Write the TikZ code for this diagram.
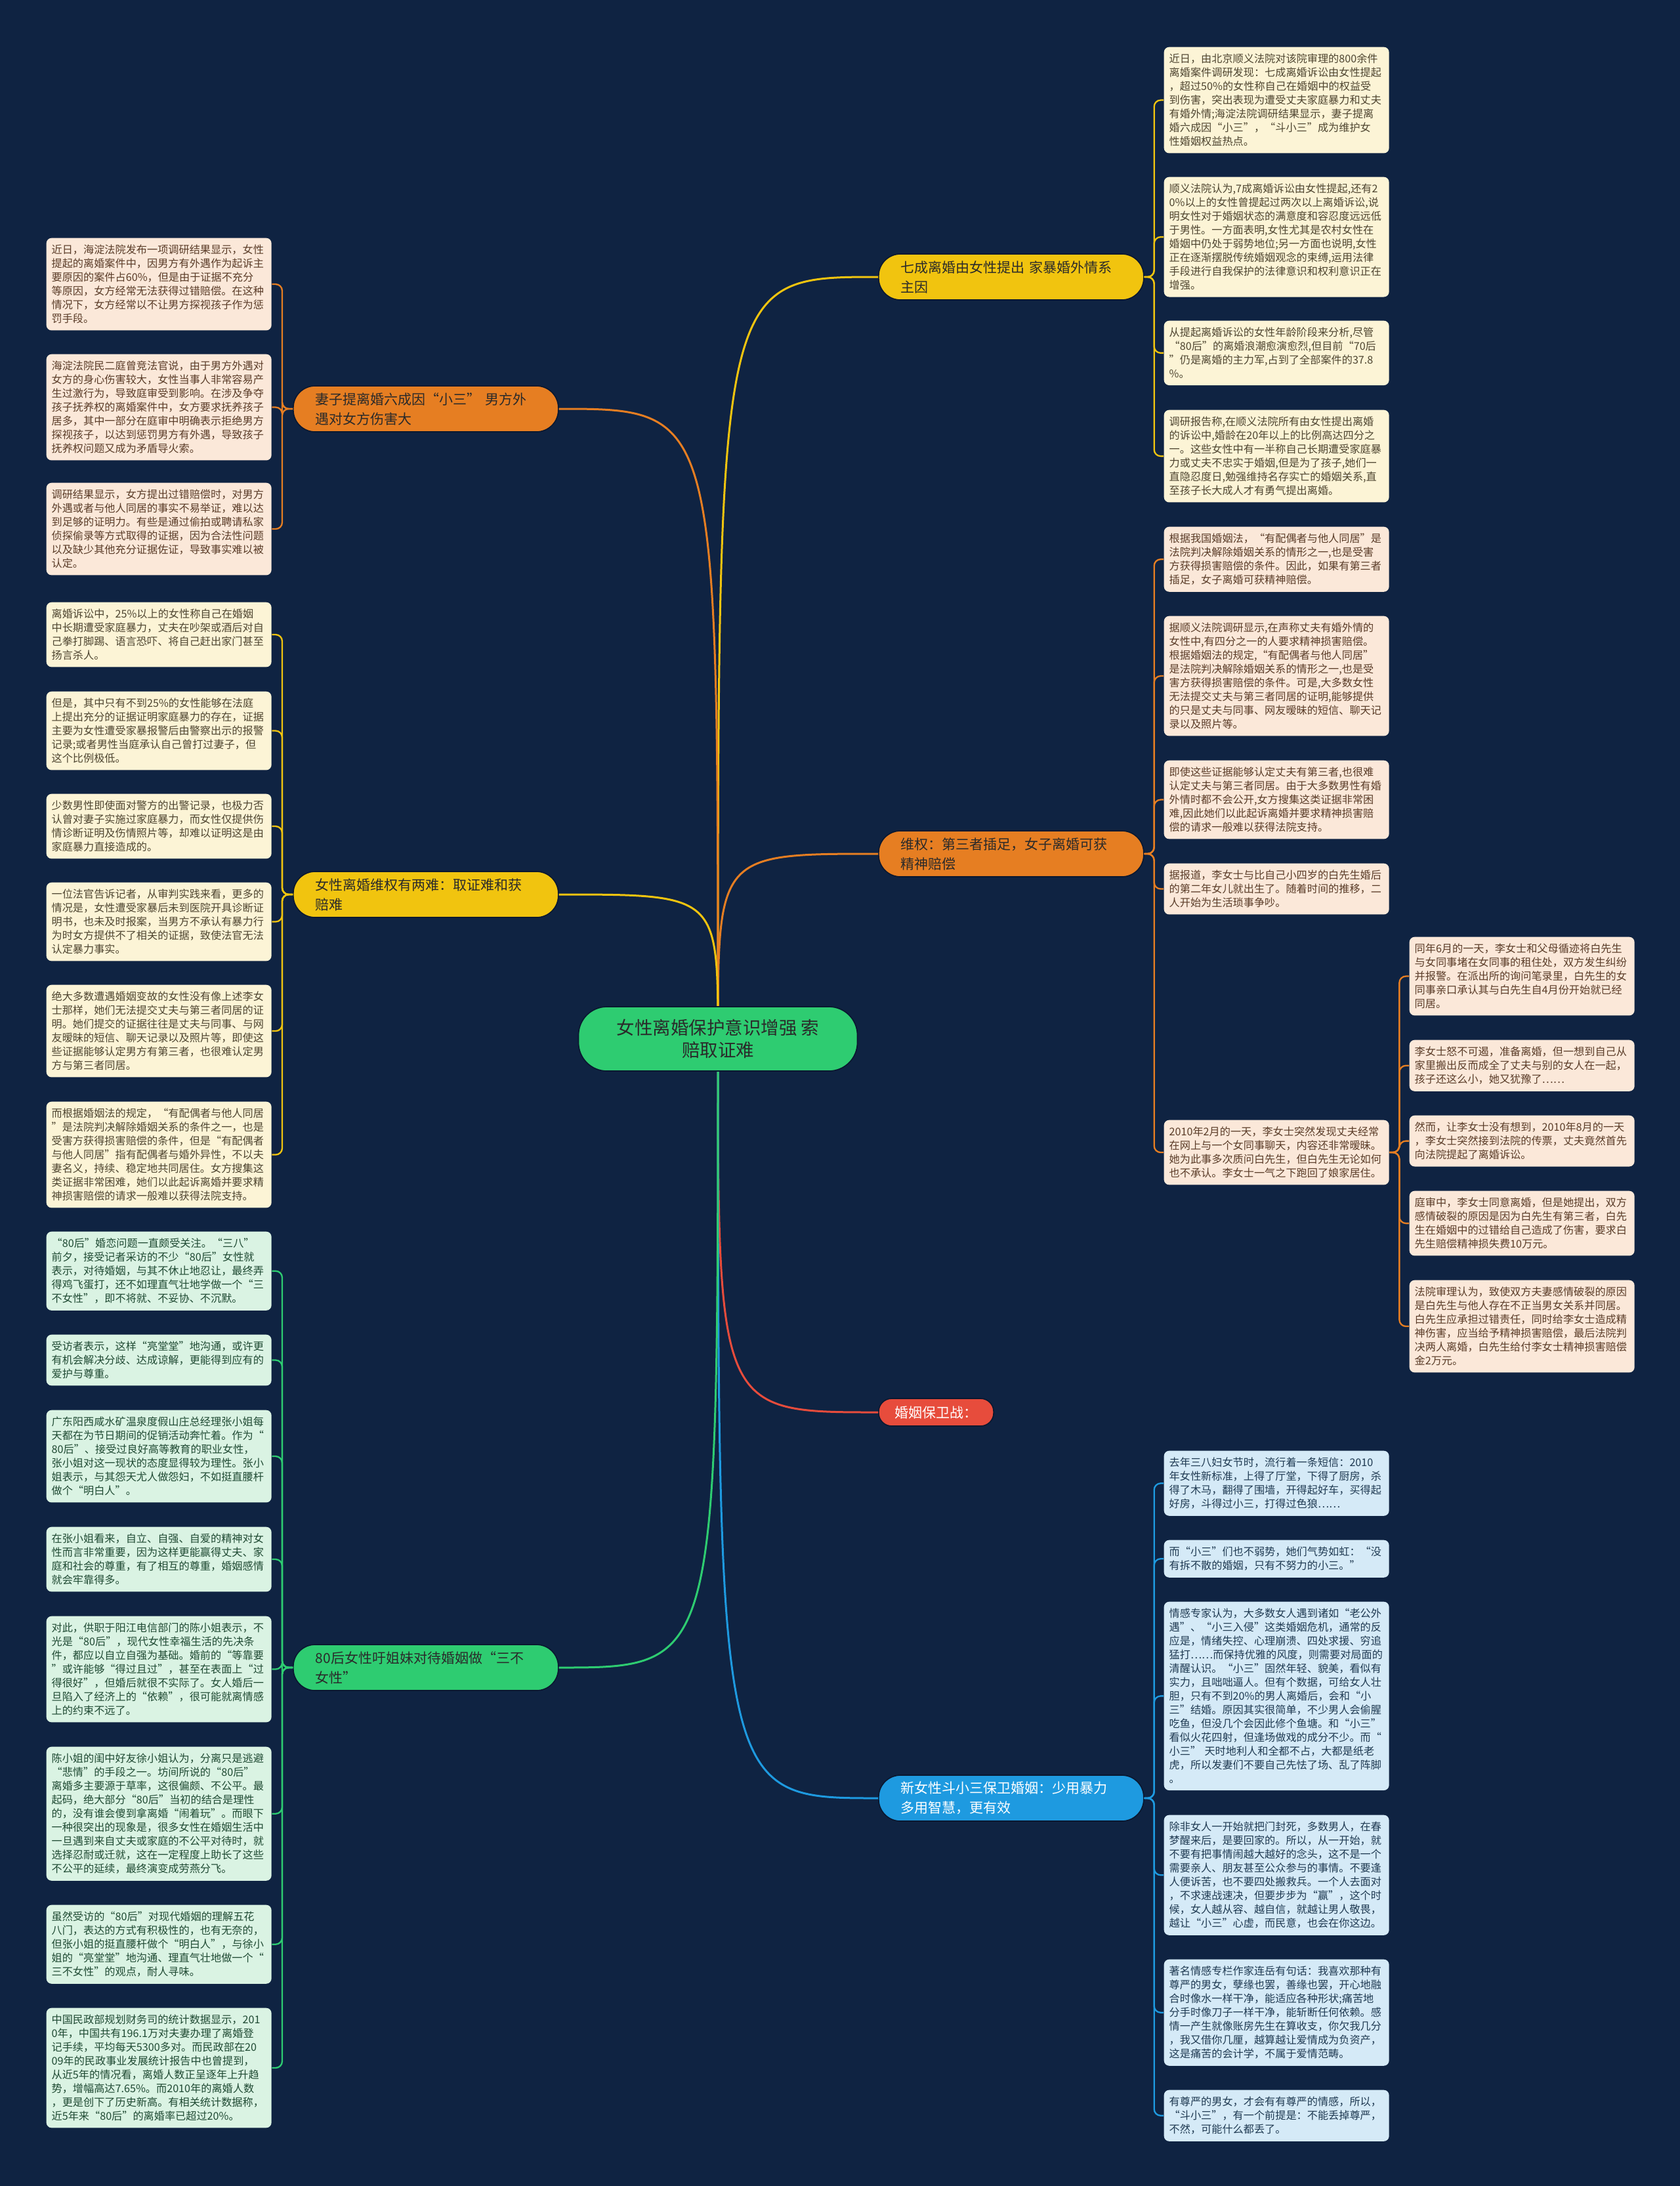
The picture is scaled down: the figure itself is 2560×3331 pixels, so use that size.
\documentclass[tikz,border=0pt]{standalone}
\usepackage{fontspec}
\newfontfamily\cjk{Noto Sans CJK SC}
\newcommand\lffont{\cjk\fontsize{4.85pt}{6.3pt}\selectfont}
\newcommand\brfont{\cjk\fontsize{6.3pt}{9pt}\selectfont}
\newcommand\cnfont{\cjk\fontsize{8.25pt}{10.2pt}\selectfont}
\definecolor{bgc}{HTML}{0F2342}
\definecolor{cG}{HTML}{2ECC71}
\definecolor{cY}{HTML}{F1C40F}
\definecolor{cO}{HTML}{E67E22}
\definecolor{cR}{HTML}{E74C3C}
\definecolor{cB}{HTML}{1E9AE0}
\definecolor{fY}{HTML}{FCF4D6}
\definecolor{fO}{HTML}{FBE8D9}
\definecolor{fB}{HTML}{D5EAF7}
\definecolor{fG}{HTML}{DAF3E3}
\definecolor{tY}{HTML}{4E4530}
\definecolor{tO}{HTML}{5A3C28}
\definecolor{tB}{HTML}{1F3A52}
\definecolor{tG}{HTML}{1F4A33}
\definecolor{tD}{HTML}{2A2A2A}
\definecolor{edge}{HTML}{0A1830}
\begin{document}
\begin{tikzpicture}[x=0.3pt,y=-0.3pt,
  leaf/.style={anchor=north west, rounded corners=2.4pt, align=left, text width=98.1pt, inner xsep=2.4pt, inner ysep=3.1pt, font=\lffont},
  yl/.style={leaf, fill=fY, text=tY},
  ol/.style={leaf, fill=fO, text=tO},
  bl/.style={leaf, fill=fB, text=tB},
  gl/.style={leaf, fill=fG, text=tG},
  branch/.style={anchor=west, draw=edge, line width=0.5pt, rounded corners=10pt, align=left, text width=100.8pt, inner xsep=10.2pt, inner ysep=2pt, minimum height=21pt, font=\brfont},
  lk/.style={line width=0.7pt, rounded corners=3pt},
  mc/.style={line width=0.9pt}]
\fill[bgc] (0,0) rectangle (2560,3331);
\useasboundingbox (0,0) rectangle (2560,3331);

% branch nodes
\node[branch, fill=cY, text=tD] (r1) at (1338,422) {七成离婚由女性提出 家暴婚外情系\\主因};
\node[branch, fill=cO, text=tD] (r2) at (1338,1301) {维权：第三者插足，女子离婚可获\\精神赔偿};
\node[anchor=west, draw=edge, line width=0.5pt, rounded corners=6pt, fill=cR, text=white, font=\brfont, inner xsep=7.4pt, minimum height=12.6pt, inner ysep=1pt] (r3) at (1338,2152) {婚姻保卫战：};
\node[branch, fill=cB, text=white] (r4) at (1338,2740) {新女性斗小三保卫婚姻：少用暴力\\多用智慧，更有效};
\node[branch, fill=cO, text=tD] (l1) at (446,623) {妻子提离婚六成因“小三” 男方外\\遇对女方伤害大};
\node[branch, fill=cY, text=tD] (l2) at (446,1363) {女性离婚维权有两难：取证难和获\\赔难};
\node[branch, fill=cG, text=tD] (l3) at (446,2541) {80后女性吁姐妹对待婚姻做“三不\\女性”};

% right R1 leaves
\node[yl] (b1) at (1773,71) {近日，由北京顺义法院对该院审理的800余件\\离婚案件调研发现：七成离婚诉讼由女性提起\\，超过50\%的女性称自己在婚姻中的权益受\\到伤害，突出表现为遭受丈夫家庭暴力和丈夫\\有婚外情;海淀法院调研结果显示，妻子提离\\婚六成因“小三”，“斗小三”成为维护女\\性婚姻权益热点。};
\node[yl] (b2) at (1773,269) {顺义法院认为,7成离婚诉讼由女性提起,还有2\\0\%以上的女性曾提起过两次以上离婚诉讼,说\\明女性对于婚姻状态的满意度和容忍度远远低\\于男性。一方面表明,女性尤其是农村女性在\\婚姻中仍处于弱势地位;另一方面也说明,女性\\正在逐渐摆脱传统婚姻观念的束缚,运用法律\\手段进行自我保护的法律意识和权利意识正在\\增强。};
\node[yl] (b3) at (1773,488) {从提起离婚诉讼的女性年龄阶段来分析,尽管\\“80后”的离婚浪潮愈演愈烈,但目前“70后\\”仍是离婚的主力军,占到了全部案件的37.8\\\%。};
\node[yl] (b4) at (1773,624) {调研报告称,在顺义法院所有由女性提出离婚\\的诉讼中,婚龄在20年以上的比例高达四分之\\一。这些女性中有一半称自己长期遭受家庭暴\\力或丈夫不忠实于婚姻,但是为了孩子,她们一\\直隐忍度日,勉强维持名存实亡的婚姻关系,直\\至孩子长大成人才有勇气提出离婚。};

% right R2 leaves
\node[ol] (c1) at (1773,802) {根据我国婚姻法，“有配偶者与他人同居”是\\法院判决解除婚姻关系的情形之一,也是受害\\方获得损害赔偿的条件。因此，如果有第三者\\插足，女子离婚可获精神赔偿。};
\node[ol] (c2) at (1773,938) {据顺义法院调研显示,在声称丈夫有婚外情的\\女性中,有四分之一的人要求精神损害赔偿。\\根据婚姻法的规定,“有配偶者与他人同居”\\是法院判决解除婚姻关系的情形之一,也是受\\害方获得损害赔偿的条件。可是,大多数女性\\无法提交丈夫与第三者同居的证明,能够提供\\的只是丈夫与同事、网友暧昧的短信、聊天记\\录以及照片等。};
\node[ol] (c3) at (1773,1158) {即使这些证据能够认定丈夫有第三者,也很难\\认定丈夫与第三者同居。由于大多数男性有婚\\外情时都不会公开,女方搜集这类证据非常困\\难,因此她们以此起诉离婚并要求精神损害赔\\偿的请求一般难以获得法院支持。};
\node[ol] (c4) at (1773,1315) {据报道，李女士与比自己小四岁的白先生婚后\\的第二年女儿就出生了。随着时间的推移，二\\人开始为生活琐事争吵。};
\node[ol] (c5) at (1773,1706) {2010年2月的一天，李女士突然发现丈夫经常\\在网上与一个女同事聊天，内容还非常暧昧。\\她为此事多次质问白先生，但白先生无论如何\\也不承认。李女士一气之下跑回了娘家居住。};

% sub leaves of c5
\node[ol] (s1) at (2147,1427) {同年6月的一天，李女士和父母循迹将白先生\\与女同事堵在女同事的租住处，双方发生纠纷\\并报警。在派出所的询问笔录里，白先生的女\\同事亲口承认其与白先生自4月份开始就已经\\同居。};
\node[ol] (s2) at (2147,1584) {李女士怒不可遏，准备离婚，但一想到自己从\\家里搬出反而成全了丈夫与别的女人在一起，\\孩子还这么小，她又犹豫了……};
\node[ol] (s3) at (2147,1699) {然而，让李女士没有想到，2010年8月的一天\\，李女士突然接到法院的传票，丈夫竟然首先\\向法院提起了离婚诉讼。};
\node[ol] (s4) at (2147,1814) {庭审中，李女士同意离婚，但是她提出，双方\\感情破裂的原因是因为白先生有第三者，白先\\生在婚姻中的过错给自己造成了伤害，要求白\\先生赔偿精神损失费10万元。};
\node[ol] (s5) at (2147,1950) {法院审理认为，致使双方夫妻感情破裂的原因\\是白先生与他人存在不正当男女关系并同居。\\白先生应承担过错责任，同时给李女士造成精\\神伤害，应当给予精神损害赔偿，最后法院判\\决两人离婚，白先生给付李女士精神损害赔偿\\金2万元。};

% right R4 leaves
\node[bl] (d1) at (1773,2210) {去年三八妇女节时，流行着一条短信：2010\\年女性新标准，上得了厅堂，下得了厨房，杀\\得了木马，翻得了围墙，开得起好车，买得起\\好房，斗得过小三，打得过色狼……};
\node[bl] (d2) at (1773,2346) {而“小三”们也不弱势，她们气势如虹：“没\\有拆不散的婚姻，只有不努力的小三。”};
\node[bl] (d3) at (1773,2440) {情感专家认为，大多数女人遇到诸如“老公外\\遇”、“小三入侵”这类婚姻危机，通常的反\\应是，情绪失控、心理崩溃、四处求援、穷追\\猛打……而保持优雅的风度，则需要对局面的\\清醒认识。“小三”固然年轻、貌美，看似有\\实力，且咄咄逼人。但有个数据，可给女人壮\\胆，只有不到20\%的男人离婚后，会和“小\\三”结婚。原因其实很简单，不少男人会偷腥\\吃鱼，但没几个会因此修个鱼塘。和“小三”\\看似火花四射，但逢场做戏的成分不少。而“\\小三”~天时地利人和全都不占，大都是纸老\\虎，所以发妻们不要自己先怯了场、乱了阵脚\\。};
\node[bl] (d4) at (1773,2765) {除非女人一开始就把门封死，多数男人，在春\\梦醒来后，是要回家的。所以，从一开始，就\\不要有把事情闹越大越好的念头，这不是一个\\需要亲人、朋友甚至公众参与的事情。不要逢\\人便诉苦，也不要四处搬救兵。一个人去面对\\，不求速战速决，但要步步为“赢”，这个时\\候，女人越从容、越自信，就越让男人敬畏，\\越让“小三”心虚，而民意，也会在你这边。};
\node[bl] (d5) at (1773,2985) {著名情感专栏作家连岳有句话：我喜欢那种有\\尊严的男女，孽缘也罢，善缘也罢，开心地融\\合时像水一样干净，能适应各种形状;痛苦地\\分手时像刀子一样干净，能斩断任何依赖。感\\情一产生就像账房先生在算收支，你欠我几分\\，我又借你几厘，越算越让爱情成为负资产，\\这是痛苦的会计学，不属于爱情范畴。};
\node[bl] (d6) at (1773,3184) {有尊严的男女，才会有有尊严的情感，所以，\\“斗小三”，有一个前提是：不能丢掉尊严，\\不然，可能什么都丢了。};

% left L1 leaves
\node[ol] (e1) at (70,362) {近日，海淀法院发布一项调研结果显示，女性\\提起的离婚案件中，因男方有外遇作为起诉主\\要原因的案件占60\%，但是由于证据不充分\\等原因，女方经常无法获得过错赔偿。在这种\\情况下，女方经常以不让男方探视孩子作为惩\\罚手段。};
\node[ol] (e2) at (70,539) {海淀法院民二庭曾竞法官说，由于男方外遇对\\女方的身心伤害较大，女性当事人非常容易产\\生过激行为，导致庭审受到影响。在涉及争夺\\孩子抚养权的离婚案件中，女方要求抚养孩子\\居多，其中一部分在庭审中明确表示拒绝男方\\探视孩子，以达到惩罚男方有外遇，导致孩子\\抚养权问题又成为矛盾导火索。};
\node[ol] (e3) at (70,735) {调研结果显示，女方提出过错赔偿时，对男方\\外遇或者与他人同居的事实不易举证，难以达\\到足够的证明力。有些是通过偷拍或聘请私家\\侦探偷录等方式取得的证据，因为合法性问题\\以及缺少其他充分证据佐证，导致事实难以被\\认定。};

% left L2 leaves
\node[yl] (f1) at (70,917) {离婚诉讼中，25\%以上的女性称自己在婚姻\\中长期遭受家庭暴力，丈夫在吵架或酒后对自\\己拳打脚踢、语言恐吓、将自己赶出家门甚至\\扬言杀人。};
\node[yl] (f2) at (70,1053) {但是，其中只有不到25\%的女性能够在法庭\\上提出充分的证据证明家庭暴力的存在，证据\\主要为女性遭受家暴报警后由警察出示的报警\\记录;或者男性当庭承认自己曾打过妻子，但\\这个比例极低。};
\node[yl] (f3) at (70,1209) {少数男性即使面对警方的出警记录，也极力否\\认曾对妻子实施过家庭暴力，而女性仅提供伤\\情诊断证明及伤情照片等，却难以证明这是由\\家庭暴力直接造成的。};
\node[yl] (f4) at (70,1344) {一位法官告诉记者，从审判实践来看，更多的\\情况是，女性遭受家暴后未到医院开具诊断证\\明书，也未及时报案，当男方不承认有暴力行\\为时女方提供不了相关的证据，致使法官无法\\认定暴力事实。};
\node[yl] (f5) at (70,1500) {绝大多数遭遇婚姻变故的女性没有像上述李女\\士那样，她们无法提交丈夫与第三者同居的证\\明。她们提交的证据往往是丈夫与同事、与网\\友暧昧的短信、聊天记录以及照片等，即使这\\些证据能够认定男方有第三者，也很难认定男\\方与第三者同居。};
\node[yl] (f6) at (70,1678) {而根据婚姻法的规定，“有配偶者与他人同居\\”是法院判决解除婚姻关系的条件之一，也是\\受害方获得损害赔偿的条件，但是“有配偶者\\与他人同居”指有配偶者与婚外异性，不以夫\\妻名义，持续、稳定地共同居住。女方搜集这\\类证据非常困难，她们以此起诉离婚并要求精\\神损害赔偿的请求一般难以获得法院支持。};

% left L3 leaves
\node[gl] (g1) at (70,1876) {“80后”婚恋问题一直颇受关注。“三八”\\前夕，接受记者采访的不少“80后”女性就\\表示，对待婚姻，与其不休止地忍让，最终弄\\得鸡飞蛋打，还不如理直气壮地学做一个“三\\不女性”，即不将就、不妥协、不沉默。};
\node[gl] (g2) at (70,2033) {受访者表示，这样“亮堂堂”地沟通，或许更\\有机会解决分歧、达成谅解，更能得到应有的\\爱护与尊重。};
\node[gl] (g3) at (70,2148) {广东阳西咸水矿温泉度假山庄总经理张小姐每\\天都在为节日期间的促销活动奔忙着。作为“\\80后”、接受过良好高等教育的职业女性，\\张小姐对这一现状的态度显得较为理性。张小\\姐表示，与其怨天尤人做怨妇，不如挺直腰杆\\做个“明白人”。};
\node[gl] (g4) at (70,2326) {在张小姐看来，自立、自强、自爱的精神对女\\性而言非常重要，因为这样更能赢得丈夫、家\\庭和社会的尊重，有了相互的尊重，婚姻感情\\就会牢靠得多。};
\node[gl] (g5) at (70,2462) {对此，供职于阳江电信部门的陈小姐表示，不\\光是“80后”，现代女性幸福生活的先决条\\件，都应以自立自强为基础。婚前的“等靠要\\”或许能够“得过且过”，甚至在表面上“过\\得很好”，但婚后就很不实际了。女人婚后一\\旦陷入了经济上的“依赖”，很可能就离情感\\上的约束不远了。};
\node[gl] (g6) at (70,2661) {陈小姐的闺中好友徐小姐认为，分离只是逃避\\“悲情”的手段之一。坊间所说的“80后”\\离婚多主要源于草率，这很偏颇、不公平。最\\起码，绝大部分“80后”当初的结合是理性\\的，没有谁会傻到拿离婚“闹着玩”。而眼下\\一种很突出的现象是，很多女性在婚姻生活中\\一旦遇到来自丈夫或家庭的不公平对待时，就\\选择忍耐或迁就，这在一定程度上助长了这些\\不公平的延续，最终演变成劳燕分飞。};
\node[gl] (g7) at (70,2902) {虽然受访的“80后”对现代婚姻的理解五花\\八门，表达的方式有积极性的，也有无奈的，\\但张小姐的挺直腰杆做个“明白人”，与徐小\\姐的“亮堂堂”地沟通、理直气壮地做一个“\\三不女性”的观点，耐人寻味。};
\node[gl] (g8) at (70,3059) {中国民政部规划财务司的统计数据显示，201\\0年，中国共有196.1万对夫妻办理了离婚登\\记手续，平均每天5300多对。而民政部在20\\09年的民政事业发展统计报告中也曾提到，\\从近5年的情况看，离婚人数正呈逐年上升趋\\势，增幅高达7.65\%。而2010年的离婚人数\\，更是创下了历史新高。有相关统计数据称，\\近5年来“80后”的离婚率已超过20\%。};

% main connectors
\coordinate (cen) at (1094,1583);
\draw[mc, cY] (cen) .. controls (1094,422) .. (r1.west);
\draw[mc, cO] (cen) .. controls (1094,1301) .. (r2.west);
\draw[mc, cR] (cen) .. controls (1094,2152) .. (r3.west);
\draw[mc, cB] (cen) .. controls (1094,2740) .. (r4.west);
\draw[mc, cO] (cen) .. controls (1094,623) .. (l1.east);
\draw[mc, cY] (cen) .. controls (1094,1363) .. (l2.east);
\draw[mc, cG] (cen) .. controls (1094,2541) .. (l3.east);

% leaf connectors
\foreach \c in {b1,b2,b3,b4} \draw[lk, cY] (r1.east) -- ++(15,0) |- (\c.west);
\foreach \c in {c1,c2,c3,c4,c5} \draw[lk, cO] (r2.east) -- ++(15,0) |- (\c.west);
\foreach \c in {s1,s2,s3,s4,s5} \draw[lk, cO] (c5.east) -- ++(15,0) |- (\c.west);
\foreach \c in {d1,d2,d3,d4,d5,d6} \draw[lk, cB] (r4.east) -- ++(15,0) |- (\c.west);
\foreach \c in {e1,e2,e3} \draw[lk, cO] (l1.west) -- ++(-16,0) |- (\c.east);
\foreach \c in {f1,f2,f3,f4,f5,f6} \draw[lk, cY] (l2.west) -- ++(-16,0) |- (\c.east);
\foreach \c in {g1,g2,g3,g4,g5,g6,g7,g8} \draw[lk, cG] (l3.west) -- ++(-16,0) |- (\c.east);

% centre node
\node[draw=edge, line width=0.5pt, rounded corners=13pt, fill=cG, text=tD, align=center, font=\cnfont, minimum width=127.5pt, minimum height=29.4pt, inner sep=2pt] (c) at (cen) {女性离婚保护意识增强 索\\赔取证难};
\end{tikzpicture}
\end{document}
